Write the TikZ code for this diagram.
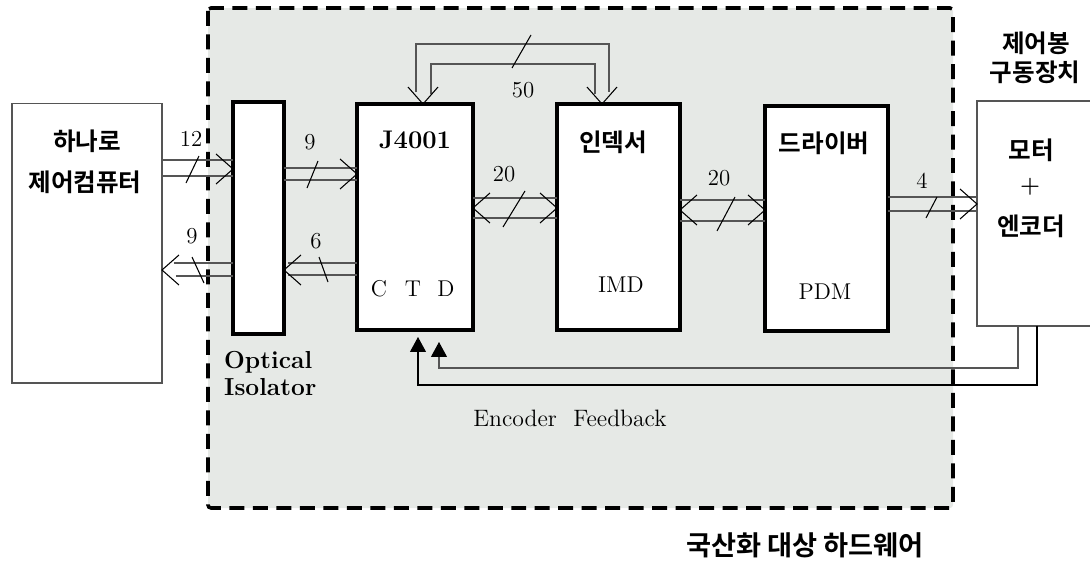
\documentclass[tikz,border=0pt]{standalone}
\usepackage{fontspec}
\usepackage{tikz}
\usetikzlibrary{positioning, calc, arrows.meta}
\newfontfamily\korfont{Noto Sans CJK KR Bold}
\definecolor{regionfill}{RGB}{230,233,230}
\definecolor{busgray}{RGB}{85,85,85}

\begin{document}
\begin{tikzpicture}[x=0.02cm, y=-0.02cm,
    block/.style={draw, line width=2.2pt, fill=white, outer sep=0pt, inner sep=0pt},
    extbox/.style={draw=busgray, line width=0.6pt, fill=white, outer sep=0pt, inner sep=0pt},
    busline/.style={busgray, line width=0.6pt},
    busslash/.style={black, line width=0.6pt},
    buslabel/.style={font=\fontsize{13}{15}\selectfont},
    kortext/.style={font=\korfont\fontsize{14}{16}\selectfont},
    feedback/.style={busgray, line width=0.6pt, -{Triangle[length=0.3cm, width=0.32cm, color=black]}},
    vhead/.pic={\draw[black, line width=0.6pt] (-17,-15) -- (0,0) -- (-17,15);}
]
    \useasboundingbox (0,0) rectangle (1090,561);
    \clip (0,0) rectangle (1090,561);

    % Hardware to be localised (dashed area)
    \draw[line width=2pt, dash pattern=on 0.3cm off 0.17cm, fill=regionfill, rounded corners=0.06cm] (208,8) rectangle (953,508);
    \node[kortext, font=\korfont\fontsize{15.5}{17}\selectfont] (regiont) at (805,545) {국산화 대상 하드웨어};

    % Blocks
    \node[extbox, minimum width=3cm, minimum height=5.6cm] (hanaro) at (87,243) {};
    \node[block, minimum width=1.02cm, minimum height=4.64cm] (iso) at (258.5,218) {};
    \node[block, minimum width=2.32cm, minimum height=4.52cm] (j4001) at (415,217) {};
    \node[block, minimum width=2.46cm, minimum height=4.52cm] (indexer) at (618.5,217) {};
    \node[block, minimum width=2.46cm, minimum height=4.5cm] (driver) at (826.5,218.5) {};
    \node[extbox, minimum width=2.66cm, minimum height=4.5cm] (motor) at (1043.5,213.5) {};

    % Block texts
    \node[kortext] (hanarot) at (87,141) {하나로};
    \node[kortext] (hanarob) at (85,182) {제어컴퓨터};
    \node[font=\bfseries\fontsize{14}{15.5}\selectfont, align=left, anchor=north west] (isot) at (218,345) {Optical\\Isolator};
    \node[font=\bfseries\fontsize{14.5}{16}\selectfont] (j4001t) at (415,140) {J4001};
    \foreach \p/\x in {C/379, T/413, D/446}
        \node[buslabel] (pin\p) at (\x,289) {\p};
    \node[kortext] (indexert) at (613,142) {인덱서};
    \node[buslabel] (imdt) at (621,285) {IMD};
    \node[kortext] (drivert) at (824,143) {드라이버};
    \node[buslabel] (pdmt) at (825,292) {PDM};
    \node[kortext] (cradt) at (1036,43) {제어봉};
    \node[kortext] (cradb) at (1035,72) {구동장치};
    \node[kortext] (motort) at (1031,150) {모터};
    \node[font=\bfseries\fontsize{13}{15}\selectfont] (plust) at (1030,187) {+};
    \node[kortext] (encodert) at (1031,226) {엔코더};

    % 12 : HANARO -> isolator
    \draw[busline] (hanaro.east |- 0,160) -- (iso.west |- 0,160);
    \draw[busline] (hanaro.east |- 0,176) -- (iso.west |- 0,176);
    \pic at (iso.west |- 0,169) {vhead};
    \draw[busslash] (186,183) -- (199,156);
    \node[buslabel] (n12) at (191,139) {12};

    % 9 : isolator -> J4001
    \draw[busline] (iso.east |- 0,168) -- (j4001.west |- 0,168);
    \draw[busline] (iso.east |- 0,180) -- (j4001.west |- 0,180);
    \pic at (j4001.west |- 0,174) {vhead};
    \draw[busslash] (307,188) -- (318,161);
    \node[buslabel] (n9a) at (310,142) {9};

    % 9 : isolator -> HANARO
    \draw[busline] ($(hanaro.east |- 0,263)+(12,0)$) -- (iso.west |- 0,263);
    \draw[busline] ($(hanaro.east |- 0,276)+(14,0)$) -- (iso.west |- 0,276);
    \pic[rotate=180] at (hanaro.east |- 0,270) {vhead};
    \draw[busslash] (192,257) -- (204,283);
    \node[buslabel] (n9b) at (192,236) {9};

    % 6 : J4001 -> isolator
    \draw[busline] ($(iso.east |- 0,263)+(4,0)$) -- (j4001.west |- 0,263);
    \draw[busline] ($(iso.east |- 0,275)+(4,0)$) -- (j4001.west |- 0,275);
    \pic[rotate=180] at (iso.east |- 0,270) {vhead};
    \draw[busslash] (319,257) -- (328,282);
    \node[buslabel] (n6) at (316,241) {6};

    % 20 : J4001 <-> indexer
    \draw[busline] (j4001.east |- 0,198) -- (indexer.west |- 0,198);
    \draw[busline] (j4001.east |- 0,218) -- (indexer.west |- 0,218);
    \pic[rotate=180] at (j4001.east |- 0,208) {vhead};
    \pic at (indexer.west |- 0,208) {vhead};
    \draw[busslash] (503,227) -- (525,191);
    \node[buslabel] (n20a) at (504,174) {20};

    % 20 : indexer <-> driver
    \draw[busline] (indexer.east |- 0,200) -- (driver.west |- 0,200);
    \draw[busline] (indexer.east |- 0,221) -- (driver.west |- 0,221);
    \pic[rotate=180] at (indexer.east |- 0,210) {vhead};
    \pic at (driver.west |- 0,210) {vhead};
    \draw[busslash] (717,231) -- (735,197);
    \node[buslabel] (n20b) at (719,178) {20};

    % 4 : driver -> motor
    \draw[busline] (driver.east |- 0,197) -- (motor.west |- 0,197);
    \draw[busline] (driver.east |- 0,211) -- (motor.west |- 0,211);
    \pic at (motor.west |- 0,204) {vhead};
    \draw[busslash] (926,218) -- (937,197);
    \node[buslabel] (n4) at (922,181) {4};

    % 50 : J4001 <-> indexer (top)
    \draw[busline] (416,0 |- j4001.north) ++(0,-12) |- (609,44) -- ($(609,0 |- indexer.north)+(0,-12)$);
    \draw[busline] (431,0 |- j4001.north) ++(0,-10) |- (595,64) -- ($(595,0 |- indexer.north)+(0,-10)$);
    \pic[rotate=-90] at (423,0 |- j4001.north) {vhead};
    \pic[rotate=-90] at (602,0 |- indexer.north) {vhead};
    \draw[busslash] (512,68) -- (531,35);
    \node[buslabel] (n50) at (523,90) {50};

    % Encoder feedback
    \coordinate (fbA) at (439,342);
    \coordinate (fbB) at (418,337);
    \draw[feedback] (1018,0 |- motor.south) |- (fbA |- 0,368) -- (fbA);
    \draw[feedback, black] (1037,0 |- motor.south) |- (fbB |- 0,385) -- (fbB);
    \node[font=\fontsize{13.5}{15}\selectfont] (fbt) at (570,418) {Encoder\hspace{0.7em}Feedback};
\end{tikzpicture}
\end{document}
